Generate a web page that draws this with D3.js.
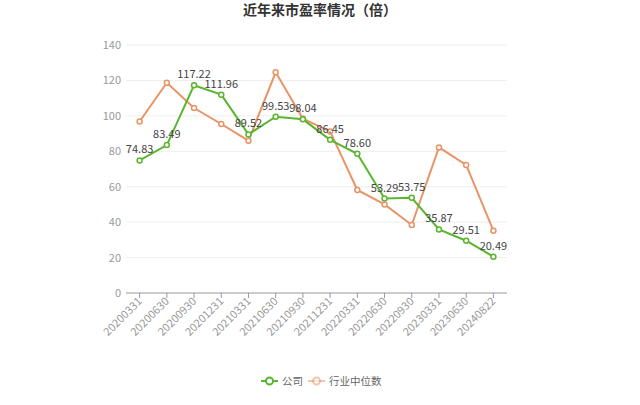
<!DOCTYPE html>
<html><head><meta charset="utf-8">
<script src="https://cdn.jsdelivr.net/npm/d3@7"></script>
<style>body{margin:0;background:#fff;font-family:"Microsoft YaHei","Noto Sans CJK SC",sans-serif}</style>
</head><body><svg id="c" width="640" height="405"></svg>
<script>
const categories=["20200331","20200630","20200930","20201231","20210331","20210630","20210930","20211231","20220331","20220630","20220930","20230331","20230630","20240822"];
const company=[74.83,83.49,117.22,111.96,89.52,99.53,98.04,86.45,78.60,53.29,53.75,35.87,29.51,20.49];
const industry=[96.8,118.7,104.4,95.4,86.0,124.6,98.4,91.2,58.2,50.0,38.4,82.2,72.3,35.2];
const yTicks=[0,20,40,60,80,100,120,140];
const title="近年来市盈率情况（倍）";
const legendNames=["公司","行业中位数"];

const svg=d3.select("#c");
const green="#5ab52f", orange="#e89466";
const x=d3.scaleBand().domain(categories).range([126,507]);
const y=d3.scaleLinear().domain([0,140]).range([293,45]);
const cx=d=>x(d)+x.bandwidth()/2;

svg.append("text").attr("x",320).attr("y",15).attr("text-anchor","middle")
  .attr("font-size",14).attr("font-weight","bold").attr("fill","#333").text(title);

svg.append("g").selectAll("line").data(yTicks.filter(t=>t>0)).join("line")
  .attr("x1",126).attr("x2",507).attr("y1",d=>y(d)).attr("y2",d=>y(d))
  .attr("stroke","#eeeeee").attr("stroke-width",1);
svg.append("g").selectAll("text").data(yTicks).join("text")
  .attr("x",121).attr("y",d=>y(d)+4).attr("text-anchor","end")
  .attr("font-size",11).attr("fill","#999").text(d=>d);
const xa=svg.append("g").attr("transform","translate(0,293)");
xa.append("line").attr("x1",126).attr("x2",507).attr("stroke","#999");
xa.selectAll("line.t").data(categories).join("line").attr("class","t")
  .attr("x1",d=>cx(d)).attr("x2",d=>cx(d)).attr("y1",0).attr("y2",5).attr("stroke","#999");
xa.selectAll("text").data(categories).join("text")
  .attr("transform",d=>`translate(${cx(d)+3},9) rotate(-45)`)
  .attr("text-anchor","end").attr("font-size",11).attr("fill","#999").text(d=>d);

function series(vals,color){
  const line=d3.line().x((d,i)=>cx(categories[i])).y(d=>y(d));
  svg.append("path").datum(vals).attr("d",line).attr("fill","none").attr("stroke",color).attr("stroke-width",2);
  svg.append("g").selectAll("circle").data(vals).join("circle")
    .attr("cx",(d,i)=>cx(categories[i])).attr("cy",d=>y(d)).attr("r",2.5)
    .attr("fill","#fff").attr("stroke",color).attr("stroke-width",1.5);
}
series(industry,orange);
series(company,green);
svg.append("g").selectAll("text").data(company).join("text")
  .attr("x",(d,i)=>cx(categories[i])).attr("y",d=>y(d)-7).attr("text-anchor","middle")
  .attr("font-size",11).attr("fill","#444").text(d=>d.toFixed(2));

const lg=[{n:legendNames[0],c:green,x:261,o:1},{n:legendNames[1],c:orange,x:308,o:0.55}];
lg.forEach(l=>{
  const g=svg.append("g");
  g.append("line").attr("x1",l.x).attr("x2",l.x+17).attr("y1",381).attr("y2",381).attr("stroke",l.c).attr("stroke-width",2).attr("opacity",l.o);
  g.append("circle").attr("cx",l.x+8.5).attr("cy",381).attr("r",3.5).attr("fill","#fff").attr("stroke",l.c).attr("stroke-width",2).attr("opacity",l.o);
  g.append("text").attr("x",l.x+21).attr("y",385).attr("font-size",10.5).attr("fill","#666").text(l.n);
});
</script></body></html>
